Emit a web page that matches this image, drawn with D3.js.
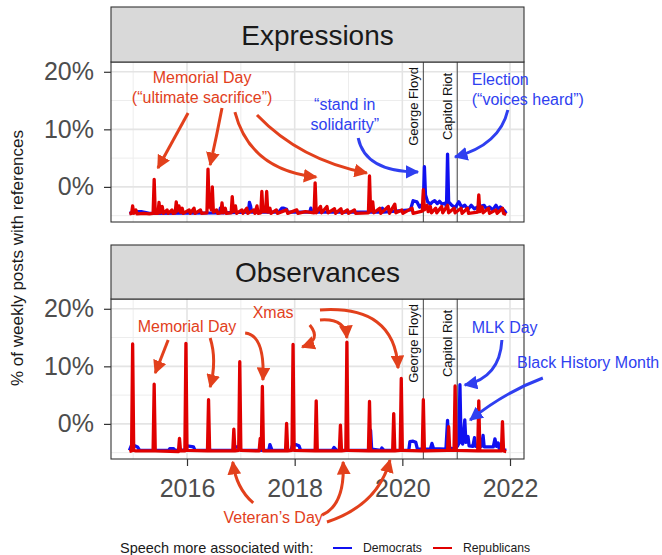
<!DOCTYPE html>
<html><head><meta charset="utf-8">
<script src="https://cdn.jsdelivr.net/npm/d3@7"></script>
<style>body{margin:0;background:#fff}svg{display:block;font-family:"Liberation Sans",Arial,Helvetica,sans-serif}</style>
</head><body><svg id="c" width="662" height="555"></svg>
<script>
// ---------------- data ----------------
const panelNames = ["Expressions", "Observances"];
const xTickYears = [2016, 2018, 2020, 2022];
const xMinorYears = [2015, 2017, 2019, 2021];
const yTickValues = [0, 10, 20];
const yMinorValues = [-5, 5, 15];
const eventLines = [{label: "George Floyd", t: 2020.39}, {label: "Capitol Riot", t: 2021.02}];
const legendTitle = "Speech more associated with:";
const partyNames = ["Democrats", "Republicans"];

// [year, % of weekly posts]
const exprRep = [[2014.93,-4.7],[2014.97,-4.6],[2014.99,-3.3],[2015.01,-4.6],[2015.05,-4.0],[2015.07,-4.7],[2015.20,-4.6],[2015.30,-4.7],[2015.37,-4.6],[2015.39,1.3],[2015.41,-4.6],[2015.46,-4.6],[2015.48,-2.7],[2015.50,-4.5],[2015.54,-3.4],[2015.56,-4.6],[2015.63,-4.0],[2015.65,-4.6],[2015.72,-4.0],[2015.74,-4.6],[2015.78,-4.5],[2015.80,-2.6],[2015.82,-4.2],[2015.85,-3.3],[2015.88,-4.4],[2015.91,-3.7],[2015.93,-4.6],[2016.04,-4.0],[2016.06,-4.6],[2016.13,-3.7],[2016.15,-4.6],[2016.25,-4.0],[2016.27,-4.6],[2016.37,-4.5],[2016.39,3.1],[2016.41,-3.5],[2016.43,-2.5],[2016.45,-4.0],[2016.47,0.0],[2016.49,-4.4],[2016.55,-4.0],[2016.57,-4.6],[2016.63,-4.5],[2016.65,-2.8],[2016.67,-4.5],[2016.71,-3.7],[2016.73,-4.6],[2016.82,-4.5],[2016.84,-1.7],[2016.86,-4.3],[2016.90,-3.3],[2016.92,-4.6],[2017.02,-4.0],[2017.04,-4.6],[2017.11,-3.7],[2017.13,-4.6],[2017.24,-4.0],[2017.26,-4.6],[2017.30,-3.3],[2017.32,-4.6],[2017.37,-4.5],[2017.39,-0.8],[2017.41,-4.3],[2017.46,-4.3],[2017.48,-0.8],[2017.50,-4.4],[2017.54,-3.7],[2017.56,-4.6],[2017.66,-4.0],[2017.68,-4.6],[2017.85,-4.0],[2017.87,-4.6],[2018.04,-4.0],[2018.06,-4.6],[2018.20,-4.3],[2018.36,-4.5],[2018.38,0.7],[2018.40,-4.5],[2018.48,-3.4],[2018.50,-4.5],[2018.60,-3.4],[2018.62,-4.5],[2018.74,-3.8],[2018.76,-4.6],[2018.86,-3.8],[2018.88,-4.6],[2018.98,-4.0],[2019.00,-4.6],[2019.11,-4.0],[2019.13,-4.6],[2019.37,-4.5],[2019.39,1.9],[2019.41,-4.2],[2019.45,-2.6],[2019.47,-4.5],[2019.58,-3.7],[2019.60,-4.6],[2019.74,-3.4],[2019.76,-4.6],[2019.86,-3.0],[2019.88,-4.5],[2019.99,-4.0],[2020.01,-4.6],[2020.18,-3.7],[2020.20,-4.6],[2020.37,-4.2],[2020.39,-0.5],[2020.41,-4.0],[2020.46,-3.2],[2020.48,-4.3],[2020.52,-3.4],[2020.54,-4.5],[2020.62,-3.7],[2020.64,-4.5],[2020.73,-3.4],[2020.75,-4.5],[2020.84,-3.2],[2020.86,-4.5],[2020.96,-3.7],[2020.98,-4.5],[2021.09,-3.7],[2021.11,-4.6],[2021.21,-3.7],[2021.23,-4.6],[2021.40,-4.4],[2021.42,-1.4],[2021.44,-4.3],[2021.48,-3.5],[2021.50,-4.5],[2021.60,-3.7],[2021.62,-4.6],[2021.74,-4.0],[2021.76,-4.6],[2021.86,-3.7],[2021.88,-4.6],[2021.93,-4.8]];
const exprDem = [[2014.93,-4.6],[2015.05,-4.3],[2015.15,-4.3],[2015.30,-4.6],[2016.60,-4.5],[2016.62,-3.7],[2016.64,-4.5],[2017.14,-4.4],[2017.16,-2.7],[2017.18,-3.3],[2017.20,-4.4],[2017.70,-4.4],[2017.76,-3.7],[2017.80,-3.7],[2017.85,-3.9],[2017.87,-4.4],[2018.28,-4.4],[2018.30,-3.7],[2018.32,-4.4],[2019.60,-4.4],[2019.63,-3.7],[2019.65,-4.4],[2020.15,-4.0],[2020.20,-2.4],[2020.27,-2.6],[2020.32,-3.5],[2020.39,-2.8],[2020.41,3.5],[2020.43,-1.4],[2020.47,-2.6],[2020.52,-3.0],[2020.56,-2.6],[2020.60,-2.4],[2020.65,-2.9],[2020.69,-2.5],[2020.74,-3.0],[2020.80,-2.8],[2020.82,-3.5],[2020.84,5.7],[2020.86,-2.6],[2020.92,-3.2],[2020.98,-3.6],[2021.05,-2.6],[2021.10,-3.5],[2021.16,-3.2],[2021.22,-3.9],[2021.28,-3.2],[2021.34,-3.8],[2021.40,-3.5],[2021.52,-3.2],[2021.56,-3.8],[2021.62,-3.5],[2021.68,-4.0],[2021.74,-3.2],[2021.78,-3.9],[2021.82,-3.5],[2021.90,-4.2],[2021.93,-4.6]];
const obsRep = [[2014.93,-4.8],[2014.97,-4.7],[2014.99,13.9],[2015.01,-4.6],[2015.05,-4.7],[2015.37,-4.7],[2015.39,6.9],[2015.41,-4.7],[2015.84,-4.8],[2015.86,-2.5],[2015.88,-4.7],[2015.96,-4.7],[2015.98,14.0],[2016.00,-4.6],[2016.38,-4.7],[2016.40,4.2],[2016.42,-4.7],[2016.85,-4.7],[2016.87,-0.9],[2016.89,-4.7],[2016.96,-4.6],[2016.98,10.8],[2017.00,-4.6],[2017.34,-4.7],[2017.36,-2.5],[2017.38,-4.2],[2017.40,6.5],[2017.42,-4.7],[2017.83,-4.7],[2017.85,0.1],[2017.87,-4.7],[2017.95,-4.6],[2017.97,13.8],[2017.99,-4.6],[2018.38,-4.7],[2018.40,4.0],[2018.42,-4.7],[2018.83,-4.7],[2018.85,-0.2],[2018.87,-4.7],[2018.95,-4.6],[2018.97,14.2],[2018.99,-4.6],[2019.37,-4.7],[2019.39,3.9],[2019.41,-4.7],[2019.82,-4.7],[2019.84,1.8],[2019.86,-4.7],[2019.96,-4.6],[2019.98,7.9],[2020.00,-4.6],[2020.37,-4.7],[2020.39,4.2],[2020.41,-4.7],[2020.84,-4.6],[2020.86,-0.5],[2020.88,-4.6],[2020.96,-4.6],[2020.98,6.6],[2021.00,-4.6],[2021.40,-4.7],[2021.42,4.0],[2021.44,-4.7],[2021.84,-4.7],[2021.86,0.4],[2021.88,-4.7],[2021.93,-4.8]];
const obsDem = [[2014.93,-4.6],[2014.97,-3.7],[2015.03,-3.8],[2015.08,-4.0],[2015.12,-4.6],[2015.66,-4.6],[2015.68,-4.3],[2015.75,-4.3],[2015.78,-4.6],[2015.96,-4.5],[2016.00,-3.8],[2016.06,-3.9],[2016.12,-4.0],[2016.15,-4.6],[2016.37,-4.6],[2016.40,-4.2],[2016.44,-4.6],[2016.88,-4.6],[2016.90,-4.0],[2016.97,-4.0],[2017.01,-4.6],[2017.52,-4.6],[2017.54,-3.6],[2017.58,-4.6],[2017.93,-4.6],[2017.96,-3.7],[2018.02,-3.6],[2018.08,-3.8],[2018.11,-4.6],[2018.70,-4.6],[2018.73,-4.1],[2018.78,-4.6],[2019.38,-4.6],[2019.41,-1.1],[2019.43,-4.4],[2019.60,-4.6],[2019.62,-4.2],[2019.66,-4.6],[2020.12,-4.6],[2020.14,-3.1],[2020.20,-3.0],[2020.25,-3.2],[2020.28,-4.4],[2020.52,-4.4],[2020.55,-3.4],[2020.58,-4.3],[2020.81,-4.4],[2020.84,0.6],[2020.86,-4.2],[2020.95,-4.3],[2021.02,-3.9],[2021.05,-3.4],[2021.07,6.8],[2021.09,-3.0],[2021.12,-3.5],[2021.16,0.7],[2021.18,-3.2],[2021.22,-2.2],[2021.24,-3.8],[2021.31,-3.9],[2021.34,-2.4],[2021.36,-3.9],[2021.47,-3.9],[2021.50,-2.0],[2021.52,-4.0],[2021.69,-4.0],[2021.72,-2.6],[2021.75,-3.9],[2021.78,-3.3],[2021.80,-4.3],[2021.93,-4.6]];

// annotation texts: panel, t, v, anchor, colour key, text
const noteTexts = [
  [0, 2016.28, 18.05, "middle", "r", "Memorial Day"],
  [0, 2016.28, 14.58, "middle", "r", "(\u201cultimate sacrifice\u201d)"],
  [0, 2018.93, 13.36, "middle", "b", "\u201cstand in"],
  [0, 2018.93, 9.90, "middle", "b", "solidarity\u201d"],
  [0, 2021.29, 17.70, "start", "b", "Election"],
  [0, 2021.29, 14.23, "start", "b", "(\u201cvoices heard\u201d)"],
  [1, 2016.00, 15.97, "middle", "r", "Memorial Day"],
  [1, 2017.60, 18.40, "middle", "r", "Xmas"],
  [1, 2021.29, 15.80, "start", "b", "MLK Day"],
  [1, 2022.13, 9.72, "start", "b", "Black History Month"],
  [1, 2017.60, -17.20, "middle", "r", "Veteran\u2019s Day"]
];
// annotation arrows: panel, colour, start (t,v), control (t,v), end (t,v)
const noteArrows = [
  [0, "r", 2016.02, 12.84, 2015.74, 8.06, 2015.46, 3.28],
  [0, "r", 2016.65, 13.71, 2016.55, 8.80, 2016.43, 3.81],
  [0, "r", 2016.89, 13.01, 2017.17, 2.94, 2018.40, 1.72],
  [0, "r", 2017.30, 12.50, 2018.10, 4.67, 2019.34, 2.42],
  [0, "b", 2019.18, 8.50, 2019.31, 2.59, 2020.29, 2.60],
  [0, "b", 2021.96, 13.36, 2021.81, 7.28, 2020.98, 5.20],
  [1, "r", 2015.65, 14.58, 2015.53, 11.71, 2015.41, 8.84],
  [1, "r", 2016.43, 14.93, 2016.56, 11.10, 2016.43, 6.41],
  [1, "r", 2017.08, 15.80, 2017.45, 15.45, 2017.41, 7.63],
  [1, "r", 2018.28, 17.18, 2018.51, 14.58, 2018.14, 13.36],
  [1, "r", 2018.47, 18.05, 2018.94, 18.40, 2018.97, 14.93],
  [1, "r", 2018.47, 19.79, 2019.86, 20.66, 2019.92, 9.71],
  [1, "b", 2021.85, 14.58, 2021.81, 7.97, 2021.16, 6.76],
  [1, "b", 2022.61, 7.97, 2021.91, 5.54, 2021.26, 0.68],
  [1, "r", 2017.23, -13.74, 2016.91, -11.14, 2016.85, -6.62],
  [1, "r", 2018.51, -15.83, 2018.94, -14.09, 2018.90, -6.62],
  [1, "r", 2018.60, -17.05, 2019.55, -14.09, 2019.77, -6.28]
];

// ---------------- styles / layout ----------------
const C = {demLine: "#1010f0", repLine: "#e00000", r: "#e2401c", b: "#2f3ff0", axis: "#333333", tick: "#4d4d4d"};
const L = {x0: 111, x1: 524, panels: [{stripTop: 7, top: 62, bottom: 222}, {stripTop: 245, top: 299, bottom: 459}]};
const seriesByPanel = [[exprDem, exprRep], [obsDem, obsRep]];

const svg = d3.select("#c");
svg.append("rect").attr("width", 662).attr("height", 555).attr("fill", "#fff");

const defs = svg.append("defs");
[["r", C.r], ["b", C.b]].forEach(([k, col]) => {
  defs.append("marker").attr("id", "arr-" + k).attr("viewBox", "0 0 10 10")
    .attr("refX", 9).attr("refY", 5).attr("markerWidth", 4.6).attr("markerHeight", 4.6)
    .attr("orient", "auto")
    .append("path").attr("d", "M0,0 L10,5 L0,10 z").attr("fill", col);
});

const x = d3.scaleLinear().domain([2014.588, 2022.26]).range([L.x0, L.x1]);

L.panels.forEach((P, pi) => {
  const y = d3.scaleLinear().domain([-6.1, 21.7]).range([P.bottom, P.top]);
  P.y = y;
  const g = svg.append("g");
  // grid
  g.selectAll(".ymin").data(yMinorValues).join("line")
    .attr("x1", L.x0).attr("x2", L.x1).attr("y1", d => y(d)).attr("y2", d => y(d))
    .attr("stroke", "#ededed").attr("stroke-width", 1);
  g.selectAll(".xmin").data(xMinorYears).join("line")
    .attr("x1", d => x(d)).attr("x2", d => x(d)).attr("y1", P.top).attr("y2", P.bottom)
    .attr("stroke", "#ededed").attr("stroke-width", 1);
  g.selectAll(".ymaj").data(yTickValues).join("line")
    .attr("x1", L.x0).attr("x2", L.x1).attr("y1", d => y(d)).attr("y2", d => y(d))
    .attr("stroke", "#e4e4e4").attr("stroke-width", 1.6);
  g.selectAll(".xmaj").data(xTickYears).join("line")
    .attr("x1", d => x(d)).attr("x2", d => x(d)).attr("y1", P.top).attr("y2", P.bottom)
    .attr("stroke", "#e4e4e4").attr("stroke-width", 1.6);
  // event lines
  g.selectAll(".ev").data(eventLines).join("line")
    .attr("x1", d => x(d.t)).attr("x2", d => x(d.t)).attr("y1", P.top).attr("y2", P.bottom)
    .attr("stroke", "#444").attr("stroke-width", 1);
  // series
  const line = d3.line().x(d => x(d[0])).y(d => y(d[1]));
  const [dem, rep] = seriesByPanel[pi];
  g.append("path").datum(dem).attr("d", line).attr("fill", "none")
    .attr("stroke", C.demLine).attr("stroke-width", 3.3).attr("stroke-linejoin", "round");
  g.append("path").datum(rep).attr("d", line).attr("fill", "none")
    .attr("stroke", C.repLine).attr("stroke-width", 3.3).attr("stroke-linejoin", "round");
  // border
  g.append("rect").attr("x", L.x0).attr("y", P.top).attr("width", L.x1 - L.x0).attr("height", P.bottom - P.top)
    .attr("fill", "none").attr("stroke", C.axis).attr("stroke-width", 1.1);
  // strip
  g.append("rect").attr("x", L.x0).attr("y", P.stripTop).attr("width", L.x1 - L.x0).attr("height", P.top - P.stripTop)
    .attr("fill", "#d9d9d9").attr("stroke", C.axis).attr("stroke-width", 1.1);
  g.append("text").attr("x", (L.x0 + L.x1) / 2).attr("y", P.top - 17)
    .attr("text-anchor", "middle").attr("font-size", 28).attr("fill", "#1a1a1a").text(panelNames[pi]);
  // y axis
  const ya = g.append("g").attr("transform", `translate(${L.x0},0)`)
    .call(d3.axisLeft(y).tickValues(yTickValues).tickFormat(d => d + "%").tickSize(7).tickPadding(10));
  ya.select(".domain").remove();
  ya.selectAll("line").attr("stroke", C.axis).attr("stroke-width", 1.2);
  ya.selectAll("text").attr("font-size", 25).attr("fill", C.tick).attr("font-family", "Liberation Sans, Arial, sans-serif");
  // event labels
  g.selectAll(".evl").data(eventLines).join("text")
    .attr("transform", d => `translate(${x(d.t) - 5},${y(13.97)}) rotate(-90)`)
    .attr("text-anchor", "middle").attr("font-size", 13).attr("fill", "#111").text(d => d.label);
});

// x axis
const PB = L.panels[1];
const xa = svg.append("g").attr("transform", `translate(0,${PB.bottom})`)
  .call(d3.axisBottom(x).tickValues(xTickYears).tickFormat(d3.format("d")).tickSize(7).tickPadding(13));
xa.select(".domain").remove();
xa.selectAll("line").attr("stroke", C.axis).attr("stroke-width", 1.2);
xa.selectAll("text").attr("font-size", 25).attr("fill", C.tick).attr("font-family", "Liberation Sans, Arial, sans-serif");

// annotations
const ann = svg.append("g");
noteArrows.forEach(a => {
  const y = L.panels[a[0]].y;
  const p = d3.path();
  p.moveTo(x(a[2]), y(a[3]));
  p.quadraticCurveTo(x(a[4]), y(a[5]), x(a[6]), y(a[7]));
  ann.append("path").attr("d", p.toString()).attr("fill", "none")
    .attr("stroke", C[a[1]]).attr("stroke-width", 3).attr("marker-end", `url(#arr-${a[1]})`);
});
noteTexts.forEach(t => {
  const y = L.panels[t[0]].y;
  ann.append("text").attr("x", x(t[1])).attr("y", y(t[2])).attr("text-anchor", t[3])
    .attr("font-size", 16).attr("fill", C[t[4]]).text(t[5]);
});

// y title
svg.append("text").attr("transform", "translate(23,258) rotate(-90)").attr("text-anchor", "middle")
  .attr("font-size", 17).attr("fill", "#1a1a1a").text("% of weekly posts with references");

// legend
const lg = svg.append("g");
lg.append("text").attr("x", 120).attr("y", 553).attr("font-size", 14.5).attr("fill", "#1a1a1a").text(legendTitle);
const keys = [[333, C.demLine, partyNames[0]], [433, C.repLine, partyNames[1]]];
keys.forEach(k => {
  lg.append("line").attr("x1", k[0]).attr("x2", k[0] + 19).attr("y1", 548).attr("y2", 548)
    .attr("stroke", k[1]).attr("stroke-width", 2);
  lg.append("text").attr("x", k[0] + 30).attr("y", 552).attr("font-size", 12.2).attr("fill", "#1a1a1a").text(k[2]);
});
</script></body></html>
